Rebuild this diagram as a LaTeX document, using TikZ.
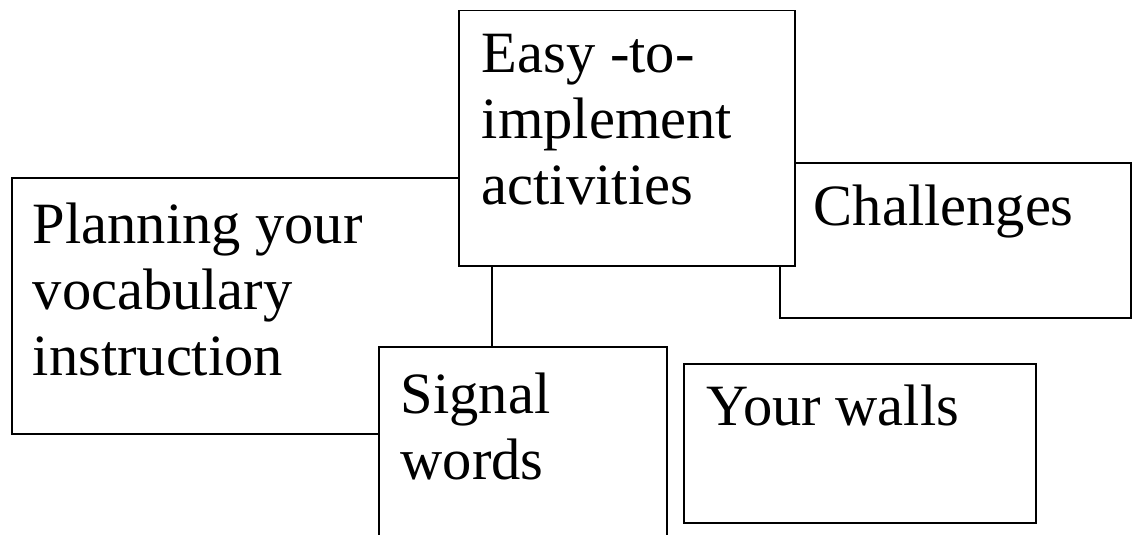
\documentclass[tikz,border=0pt]{standalone}
\usepackage{fontspec}
\setmainfont{Liberation Serif}
\usepackage{tikz}

\begin{document}
\begin{tikzpicture}[x=1pt, y=-1pt, line width=1.5pt]

            \tikzstyle{box} = [rectangle, draw=black, fill=white, anchor=north west, inner sep=0pt]
            \tikzstyle{words} = [anchor=base west, inner sep=0pt, font=\fontsize{58.5}{66}\selectfont]

            \useasboundingbox (0,0) rectangle (1133,535);

            \node[box, minimum width=480pt, minimum height=256pt] (planning) at (11,177) {};
            \node[words] (planning_text) at (32,243) {\begin{tabular}[t]{@{}l@{}}Planning your\\vocabulary\\instruction\end{tabular}};

            \node[box, minimum width=351pt, minimum height=155pt] (challenges) at (779,162) {};
            \node[words] (challenges_text) at (813,225) {Challenges};

            \node[box, minimum width=336pt, minimum height=255pt] (easy) at (458,10) {};
            \node[words] (easy_text) at (481,73) {\begin{tabular}[t]{@{}l@{}}Easy -to-\\implement\\activities\end{tabular}};

            \node[box, minimum width=288pt, minimum height=214pt] (signal) at (378,346) {};
            \node[words] (signal_text) at (400,413) {\begin{tabular}[t]{@{}l@{}}Signal\\words\end{tabular}};

            \node[box, minimum width=352pt, minimum height=159pt] (walls) at (683,363) {};
            \node[words] (walls_text) at (706,425) {Your walls};
       \end{tikzpicture}
\end{document}
